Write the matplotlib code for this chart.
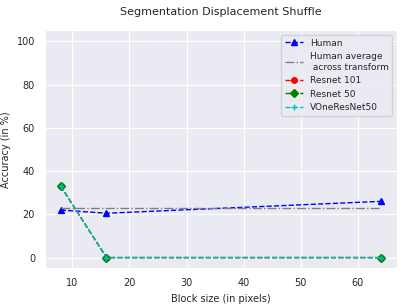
import matplotlib
matplotlib.use("Agg")
import matplotlib.pyplot as plt
import seaborn as sns

sns.set_style("darkgrid")
plt.rcParams['font.family'] = ['DejaVu Sans']

block_sizes = [8, 16, 64]
human = [22.0, 20.5, 26.0]
human_avg = [22.8, 22.8, 22.8]
resnet101 = [33.0, 0.0, 0.0]
resnet50 = [33.0, 0.0, 0.0]
vone = [33.0, 0.0, 0.0]

fig, ax = plt.subplots(figsize=(4.07, 3.05), dpi=100)
lw = 1.0
ms = 4
ax.plot(block_sizes, human, '--^', color='blue', label='Human', markersize=ms, linewidth=lw)
ax.plot(block_sizes, human_avg, '-.', color='gray', label='Human average\n across transform', linewidth=lw)
ax.plot(block_sizes, resnet101, '--o', color='red', label='Resnet 101', markersize=ms, linewidth=lw)
ax.plot(block_sizes, resnet50, '--D', color='green', label='Resnet 50', markersize=ms, linewidth=lw)
ax.plot(block_sizes, vone, '--+', color='c', label='VOneResNet50', markersize=ms, linewidth=lw)

ax.set_ylim(-5, 105)
ax.set_yticks([0, 20, 40, 60, 80, 100])
ax.set_xlabel('Block size (in pixels)', fontsize=7)
ax.set_ylabel('Accuracy (in %)', fontsize=7)
ax.set_title('Segmentation Displacement Shuffle', fontsize=8, pad=11)
ax.tick_params(labelsize=7)
ax.legend(fontsize=6.5, loc='upper right')
fig.subplots_adjust(left=0.11, right=0.975, top=0.9, bottom=0.12)
fig.savefig('out.png', dpi=100)
